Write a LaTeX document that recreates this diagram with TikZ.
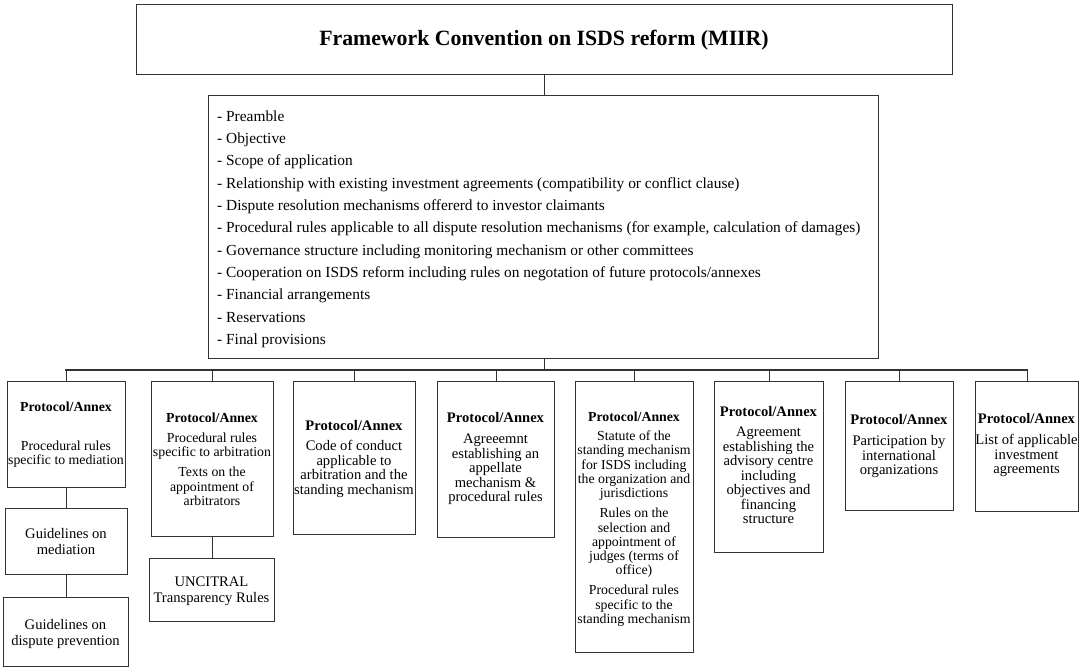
\documentclass[tikz,border=0pt]{standalone}
\usepackage{fontspec}
\setmainfont{Liberation Serif}
\newcommand\ctext[1]{\vtop{\halign{\hfil##\hfil\cr#1\crcr}}}
\tikzset{
  box/.style={draw=black!80, line width=1.3pt, inner sep=0pt, anchor=north west},
  conn/.style={draw=black!80, line width=1.3pt, line cap=rect},
  hdr/.style={font=\fontsize{13.8}{14.3}\selectfont\bfseries, inner sep=0pt, anchor=base},
  txt/.style={font=\fontsize{13.8}{14.3}\selectfont, inner sep=0pt, anchor=base},
  hdrL/.style={font=\fontsize{14.6}{14.5}\selectfont\bfseries, inner sep=0pt, anchor=base},
  txtL/.style={font=\fontsize{14.6}{14.5}\selectfont, inner sep=0pt, anchor=base},
  txtS/.style={font=\fontsize{14.6}{15.5}\selectfont, inner sep=0pt, anchor=base},
}
\begin{document}
\begin{tikzpicture}[x=1pt,y=-1pt]
\useasboundingbox (0,0) rectangle (1079,670);
% top box
\node[box, minimum width=816pt, minimum height=70pt] (top) at (136,4) {};
\node[font=\fontsize{21.8}{25}\selectfont\bfseries, inner sep=0pt, anchor=base] (title) at (544,45) {Framework Convention on ISDS reform (MIIR)};
% list box
\node[box, minimum width=670pt, minimum height=263pt] (lbox) at (208,95) {};
\node[font=\fontsize{15.4}{22.35}\selectfont, inner sep=0pt, anchor=base west] (items) at (217,121) {\vtop{%
\hbox{- Preamble}%
\hbox{- Objective}%
\hbox{- Scope of application}%
\hbox{- Relationship with existing investment agreements (compatibility or conflict clause)}%
\hbox{- Dispute resolution mechanisms offererd to investor claimants}%
\hbox{- Procedural rules applicable to all dispute resolution mechanisms (for example, calculation of damages)}%
\hbox{- Governance structure including monitoring mechanism or other committees}%
\hbox{- Cooperation on ISDS reform including rules on negotation of future protocols/annexes}%
\hbox{- Financial arrangements}%
\hbox{- Reservations}%
\hbox{- Final provisions}}};
% protocol boxes
\node[box, minimum width=118pt, minimum height=106pt] (p1) at (7,381) {};
\node[box, minimum width=122pt, minimum height=155pt] (p2) at (151,381) {};
\node[box, minimum width=122pt, minimum height=153pt] (p3) at (293,381) {};
\node[box, minimum width=117pt, minimum height=156pt] (p4) at (437,381) {};
\node[box, minimum width=118pt, minimum height=271pt] (p5) at (575,381) {};
\node[box, minimum width=109pt, minimum height=171pt] (p6) at (714,381) {};
\node[box, minimum width=108pt, minimum height=129pt] (p7) at (845,381) {};
\node[box, minimum width=103pt, minimum height=130pt] (p8) at (975,381) {};
% sub boxes
\node[box, minimum width=122pt, minimum height=66pt] (gm) at (5,508) {};
\node[box, minimum width=125pt, minimum height=69pt] (gdp) at (3,597) {};
\node[box, minimum width=125pt, minimum height=63pt] (unc) at (149,558) {};
% headers
\node[hdr] (h1) at (66,411.5) {Protocol/Annex};
\node[hdr] (h2) at (212,422.5) {Protocol/Annex};
\node[hdrL] (h3) at (354,430.5) {Protocol/Annex};
\node[hdrL] (h4) at (495.5,422.5) {Protocol/Annex};
\node[hdr] (h5) at (634,421.5) {Protocol/Annex};
\node[hdrL] (h6) at (768.5,416.5) {Protocol/Annex};
\node[hdrL] (h7) at (899,424.5) {Protocol/Annex};
\node[hdrL] (h8) at (1026.5,423.5) {Protocol/Annex};
% contents
\node[txt] (c1) at (66,450.5) {\ctext{Procedural rules\cr specific to mediation}};
\node[txt] (c2) at (212,442.5) {\ctext{Procedural rules\cr specific to arbitration\cr\noalign{\vskip5.7pt} Texts on the\cr appointment of\cr arbitrators}};
\node[txtL] (c3) at (354,450.5) {\ctext{Code of conduct\cr applicable to\cr arbitration and the\cr standing mechanism}};
\node[txtL] (c4) at (495.5,443.5) {\ctext{Agreeemnt\cr establishing an\cr appellate\cr mechanism \&\cr procedural rules}};
\node[txt] (c5) at (634,440.5) {\ctext{Statute of the\cr standing mechanism\cr for ISDS including\cr the organization and\cr jurisdictions\cr\noalign{\vskip5.7pt} Rules on the\cr selection and\cr appointment of\cr judges (terms of\cr office)\cr\noalign{\vskip5.7pt} Procedural rules\cr specific to the\cr standing mechanism}};
\node[txtL] (c6) at (768.5,436.5) {\ctext{Agreement\cr establishing the\cr advisory centre\cr including\cr objectives and\cr financing\cr structure}};
\node[txtL] (c7) at (899,445.5) {\ctext{Participation by\cr international\cr organizations}};
\node[txtL] (c8) at (1026.5,444.5) {\ctext{List of applicable\cr investment\cr agreements}};
\node[txtS] (cgm) at (66,538.5) {\ctext{Guidelines on\cr mediation}};
\node[txtS] (cgdp) at (65.5,629.5) {\ctext{Guidelines on\cr dispute prevention}};
\node[txtS] (cunc) at (211.5,586.5) {\ctext{UNCITRAL\cr Transparency Rules}};
% connectors
\coordinate (busL) at (66,370);
\coordinate (busR) at (1026.5,370);
\draw[conn] (top.south) -- (top.south |- lbox.north);
\draw[conn] (top.south |- lbox.south) -- (top.south |- busL);
\draw[conn] (busL) -- (busR);
\foreach \p in {p1,p2,p3,p4,p5,p6,p7,p8}
  \draw[conn] (\p.north) -- (\p.north |- busL);
\draw[conn] (p1.south) -- (p1.south |- gm.north);
\draw[conn] (p1.south |- gm.south) -- (p1.south |- gdp.north);
\draw[conn] (p2.south) -- (p2.south |- unc.north);
\end{tikzpicture}
\end{document}
